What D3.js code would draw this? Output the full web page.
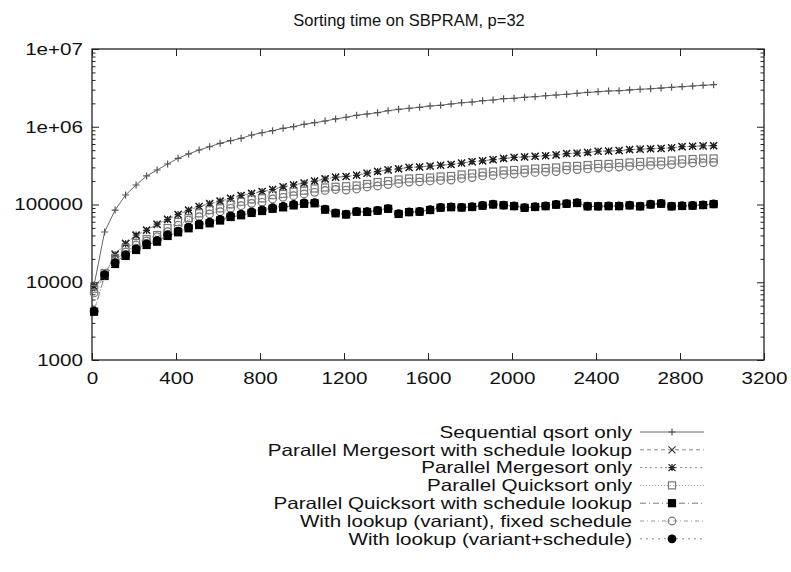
<!DOCTYPE html>
<html>
<head>
<meta charset="utf-8">
<script src="https://cdn.jsdelivr.net/npm/d3@7"></script>
<style>
    body { margin: 0; background: #fff; }
    svg text { font-family: "Liberation Sans", Arial, sans-serif; fill: #111; }
    .axis path { display: none; }
    .axis line { stroke: #222; }
</style>
</head>
<body>
<div id="chart"></div>
<script>

// problem sizes (x axis)
const sizes = [10, 60, 110, 160, 210, 260, 310, 360, 410, 460, 510, 560, 610, 660, 710, 760, 810, 860, 910, 960,
    1010, 1060, 1110, 1160, 1210, 1260, 1310, 1360, 1410, 1460, 1510, 1560, 1610, 1660, 1710, 1760, 1810, 1860, 1910, 1960,
    2010, 2060, 2110, 2160, 2210, 2260, 2310, 2360, 2410, 2460, 2510, 2560, 2610, 2660, 2710, 2760, 2810, 2860, 2910, 2960];

const seqQsort = [9200, 44300, 84900, 132500, 178200, 232800, 278000, 331900, 392700, 446700,
    502300, 553400, 612400, 662200, 709800, 783400, 837600, 889200, 955000, 1002000,
    1076000, 1127000, 1186000, 1259000, 1324000, 1403000, 1459000, 1517000, 1607000, 1675000,
    1726000, 1778000, 1849000, 1888000, 1963000, 2037000, 2080000, 2163000, 2208000, 2296000,
    2323000, 2393000, 2437000, 2506000, 2559000, 2614000, 2692000, 2761000, 2825000, 2884000,
    2911000, 2972000, 3034000, 3083000, 3148000, 3214000, 3273000, 3342000, 3412000, 3475000];

const mergeSched = [8690, 12390, 23070, 31700, 39900, 47000, 55300, 64700, 73900, 84900,
    93700, 103000, 109900, 120200, 129700, 139300, 146200, 156700, 169400, 178200,
    189200, 199500, 214300, 224400, 228000, 238200, 251800, 267300, 278000, 288400,
    299200, 303400, 312600, 319200, 326600, 342000, 354800, 365600, 376700, 392700,
    401800, 408300, 416900, 422700, 433500, 452900, 456000, 468800, 483100, 485300,
    495500, 507000, 514000, 520000, 524800, 538300, 553400, 562300, 565000, 568900];

const mergeOnly = [8900, 12600, 22500, 31200, 40500, 46400, 55900, 64100, 74500, 84200,
    94600, 102200, 110800, 119500, 130600, 138700, 147300, 155900, 168200, 179100,
    188300, 200400, 212800, 225300, 229600, 237100, 252900, 265800, 279200, 287300,
    300500, 304800, 311200, 320700, 327900, 340600, 356200, 364100, 378300, 391000,
    403500, 409900, 415200, 424600, 435300, 451000, 458100, 466900, 485200, 487400,
    493300, 509200, 516300, 522400, 527000, 536100, 555700, 560000, 567500, 571300];

const quickOnly = [8190, 13150, 20510, 27600, 31990, 35970, 40550, 49890, 59570, 66990,
    77090, 84920, 89330, 100700, 108600, 116700, 120200, 132500, 136500, 146200,
    150500, 160700, 165600, 169000, 171900, 175500, 183500, 194600, 200500, 209800,
    216000, 219300, 222300, 229100, 232800, 243200, 250600, 258200, 265500, 273500,
    278000, 281800, 290400, 294400, 299200, 312600, 313500, 322100, 331900, 332500,
    342000, 346700, 352400, 357300, 358000, 368100, 379300, 384600, 390800, 391500];

const quickSched = [4180, 12030, 17170, 21780, 26000, 30130, 33270, 39360, 43890, 49430,
    54450, 57280, 62230, 69020, 72610, 77800, 82410, 88100, 91840, 97280,
    102100, 103500, 85900, 77090, 74300, 80750, 80200, 83180, 88100, 75510,
    79620, 80750, 84920, 90960, 92300, 91500, 92900, 96500, 100000, 97700,
    95100, 90700, 92900, 95100, 99400, 102100, 104500, 94600, 94600, 95100,
    95100, 97300, 94600, 100000, 102400, 94600, 95700, 96500, 98300, 101000];

const variantFixed = [7280, 12390, 19320, 24490, 30130, 33960, 38550, 44670, 54450, 63200,
    69660, 75510, 80750, 89330, 96500, 103500, 106700, 117700, 123800, 129700,
    136500, 143500, 151400, 156000, 153500, 158200, 167900, 173000, 180700, 186200,
    194600, 195500, 200500, 203700, 206500, 216000, 222300, 232800, 236000, 243200,
    246600, 254100, 258200, 261800, 265500, 278000, 281800, 286400, 294400, 299200,
    303400, 308300, 312600, 317700, 322100, 326600, 336500, 342000, 343000, 346700];

const variantSched = [4250, 12500, 17900, 22600, 27000, 31300, 34600, 40800, 45500, 51200,
    56400, 59300, 64400, 71300, 75000, 80300, 85000, 90800, 94600, 100100,
    104800, 105900, 87100, 77900, 75100, 81400, 80900, 83900, 88700, 76200,
    80300, 81500, 85600, 91700, 93000, 92100, 93600, 97200, 100800, 98400,
    95800, 91400, 93600, 95800, 100100, 102900, 105300, 95300, 95300, 95800,
    95800, 98000, 95300, 100700, 103100, 95300, 96400, 97200, 99000, 101700];

const xTicks = [0, 400, 800, 1200, 1600, 2000, 2400, 2800, 3200];
const yTicks = [1000, 10000, 100000, 1e6, 1e7];
const yTickLabels = ["1000", "10000", "100000", "1e+06", "1e+07"];

const seriesNames = ["Sequential qsort only", "Parallel Mergesort with schedule lookup", "Parallel Mergesort only",
    "Parallel Quicksort only", "Parallel Quicksort with schedule lookup", "With lookup (variant), fixed schedule",
    "With lookup (variant+schedule)"];
const seriesValues = [seqQsort, mergeSched, mergeOnly, quickOnly, quickSched, variantFixed, variantSched];


class SortChart {

    constructor(_parentElement) {
        this.parentElement = _parentElement;
        this.initVis();
    }

    initVis() {
        let vis = this;

        vis.margin = { top: 49, right: 27, bottom: 212, left: 92 };
        vis.width = 791 - vis.margin.left - vis.margin.right;
        vis.height = 572 - vis.margin.top - vis.margin.bottom;
        vis.stretch = 1.25;   // axis / legend text in the original is horizontally wide

        vis.root = d3.select("#" + vis.parentElement).append("svg")
            .attr("width", 791)
            .attr("height", 572);

        vis.svg = vis.root.append("g")
            .attr("transform", "translate(" + vis.margin.left + "," + vis.margin.top + ")");

        vis.x = d3.scaleLinear().domain([0, 3200]).range([0, vis.width]);
        vis.y = d3.scaleLog().domain([1000, 1e7]).range([vis.height, 0]);

        // marker styles per series
        vis.styles = [
            { marker: "plus",   markColor: "#555", lineColor: "#666", dash: null,        fill: "none" },
            { marker: "cross",  markColor: "#333", lineColor: "#888", dash: "4,3",       fill: "none" },
            { marker: "star",   markColor: "#222", lineColor: "#888", dash: "2,3",       fill: "none" },
            { marker: "square", markColor: "#777", lineColor: "#999", dash: "1,2",       fill: "#fff" },
            { marker: "square", markColor: "#000", lineColor: "#777", dash: "6,3,1,3",   fill: "#000" },
            { marker: "circle", markColor: "#777", lineColor: "#999", dash: "4,3,1,3",   fill: "#fff" },
            { marker: "circle", markColor: "#000", lineColor: "#888", dash: "2,4",       fill: "#000" }
        ];

        vis.drawAxes();
        vis.drawSeries();
        vis.drawLegend();

        // title
        vis.root.append("text")
            .attr("x", 409)
            .attr("y", 20)
            .attr("text-anchor", "middle")
            .attr("dy", "0.35em")
            .style("font-size", "16.5px")
            .text("Sorting time on SBPRAM, p=32");
    }

    drawAxes() {
        let vis = this;

        let minor = [];
        [1000, 10000, 100000, 1e6].forEach(function (dec) {
            for (let m = 2; m <= 9; m++) minor.push(dec * m);
        });

        // left
        vis.svg.append("g")
            .attr("class", "axis y-axis")
            .call(d3.axisLeft(vis.y).tickValues(yTicks).tickSize(-7).tickSizeOuter(0).tickPadding(7.2)
                .tickFormat(function (d, i) { return yTickLabels[i]; }));
        vis.svg.append("g")
            .attr("class", "axis")
            .call(d3.axisLeft(vis.y).tickValues(minor).tickSize(-3.5).tickSizeOuter(0).tickFormat(""));

        // right mirror
        vis.svg.append("g")
            .attr("class", "axis")
            .attr("transform", "translate(" + vis.width + ",0)")
            .call(d3.axisRight(vis.y).tickValues(yTicks).tickSize(-7).tickSizeOuter(0).tickFormat(""));
        vis.svg.append("g")
            .attr("class", "axis")
            .attr("transform", "translate(" + vis.width + ",0)")
            .call(d3.axisRight(vis.y).tickValues(minor).tickSize(-3.5).tickSizeOuter(0).tickFormat(""));

        // bottom + top mirror
        vis.svg.append("g")
            .attr("class", "axis x-axis")
            .attr("transform", "translate(0," + vis.height + ")")
            .call(d3.axisBottom(vis.x).tickValues(xTicks).tickSize(-7).tickSizeOuter(0).tickPadding(12)
                .tickFormat(d3.format("d")));
        vis.svg.append("g")
            .attr("class", "axis")
            .call(d3.axisTop(vis.x).tickValues(xTicks).tickSize(-7).tickSizeOuter(0).tickFormat(""));

        vis.svg.selectAll(".axis text")
            .attr("transform", "scale(" + vis.stretch + ",1)")
            .style("font-size", "16.5px")
            .attr("fill", "#111");

        // border
        vis.svg.append("rect")
            .attr("width", vis.width)
            .attr("height", vis.height)
            .attr("fill", "none")
            .attr("stroke", "#222")
            .attr("stroke-width", 1.3);
    }

    markerPath(type, cx, cy) {
        let s = 3.5;
        if (type === "plus") return "M" + (cx - s) + "," + cy + "H" + (cx + s) + "M" + cx + "," + (cy - s) + "V" + (cy + s);
        if (type === "cross") return "M" + (cx - s) + "," + (cy - s) + "L" + (cx + s) + "," + (cy + s) +
            "M" + (cx - s) + "," + (cy + s) + "L" + (cx + s) + "," + (cy - s);
        if (type === "star") return this.markerPath("plus", cx, cy) + this.markerPath("cross", cx, cy);
        return "";
    }

    drawMarker(g, st, cx, cy) {
        let vis = this;
        if (st.marker === "square") {
            g.append("rect")
                .attr("x", cx - 3.5).attr("y", cy - 3.5)
                .attr("width", 7).attr("height", 7)
                .attr("fill", st.fill)
                .attr("fill-opacity", st.fill === "#fff" ? 0 : 1)
                .attr("stroke", st.markColor)
                .attr("stroke-width", 1.2);
        } else if (st.marker === "circle") {
            g.append("circle")
                .attr("cx", cx).attr("cy", cy).attr("r", 3.8)
                .attr("fill", st.fill)
                .attr("fill-opacity", st.fill === "#fff" ? 0 : 1)
                .attr("stroke", st.markColor)
                .attr("stroke-width", 1.2);
        } else {
            g.append("path")
                .attr("d", vis.markerPath(st.marker, cx, cy))
                .attr("fill", "none")
                .attr("stroke", st.markColor)
                .attr("stroke-width", 1.2);
        }
    }

    drawSeries() {
        let vis = this;

        let line = d3.line()
            .x(function (d) { return vis.x(d.size); })
            .y(function (d) { return vis.y(d.value); });

        seriesValues.forEach(function (values, i) {
            let st = vis.styles[i];
            let data = sizes.map(function (s, j) { return { size: s, value: values[j] }; });
            let g = vis.svg.append("g").attr("class", "series series-" + i);

            g.append("path")
                .datum(data)
                .attr("fill", "none")
                .attr("stroke", st.lineColor)
                .attr("stroke-width", 1)
                .attr("stroke-dasharray", st.dash)
                .attr("d", line);

            data.forEach(function (d) {
                vis.drawMarker(g, st, vis.x(d.size), vis.y(d.value));
            });
        });
    }

    drawLegend() {
        let vis = this;

        let legend = vis.root.append("g").attr("class", "legend");
        seriesNames.forEach(function (name, i) {
            let st = vis.styles[i];
            let yPos = 432 + i * 17.8;
            let row = legend.append("g");

            row.append("g")
                .attr("transform", "translate(632," + yPos + ")")
                .append("text")
                .attr("transform", "scale(" + vis.stretch + ",1)")
                .attr("text-anchor", "end")
                .attr("dy", "0.35em")
                .style("font-size", "16.5px")
                .text(name);

            row.append("line")
                .attr("x1", 640).attr("x2", 704)
                .attr("y1", yPos).attr("y2", yPos)
                .attr("stroke", st.lineColor)
                .attr("stroke-width", 1)
                .attr("stroke-dasharray", st.dash);

            vis.drawMarker(row, st, 672, yPos);
        });
    }
}

new SortChart("chart");

</script>
</body>
</html>
